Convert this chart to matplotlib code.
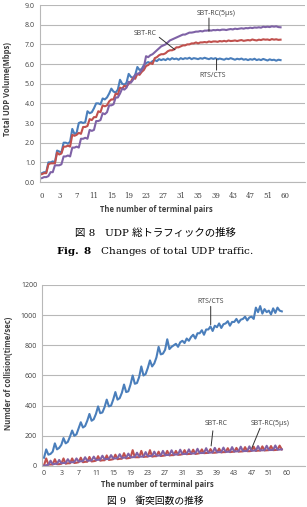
import matplotlib.pyplot as plt
import numpy as np

plt.rcParams["font.family"] = ["Open Sans", "DejaVu Sans"]
plt.rcParams["mathtext.fontset"] = "dejavuserif"

# x axis: 8 samples per labelled category step
tick_labels = ["0", "3", "7", "11", "15", "19", "23", "27", "31", "35", "39", "43", "47", "51", "60"]
samples_per_label = 8

# Fig. 8 - total UDP volume (Mbps)
udp_rts_cts = [
    0.45, 0.5, 0.5, 1.0, 1.0, 1.05, 1.0, 1.6, 1.55, 1.5, 2.0, 2.0, 1.95, 2.05,
    2.7, 2.45, 2.5, 3.0, 3.05, 3.0, 3.05, 3.6, 3.5, 3.55,
    3.75, 4.0, 4.0, 3.95, 4.25, 4.2, 4.3, 4.5, 4.75, 4.6, 4.55, 4.7,
    5.2, 5.0, 4.95, 5.05, 5.5, 5.35, 5.3, 5.45, 5.85, 5.7, 5.75, 5.95,
    6.05, 6.1, 6.05, 6.15, 6.2, 6.15, 6.25, 6.2, 6.25, 6.2, 6.28, 6.22,
    6.3, 6.25, 6.28, 6.22, 6.3, 6.25, 6.3, 6.27, 6.32, 6.25, 6.3, 6.28,
    6.25, 6.3, 6.27, 6.32, 6.28, 6.25, 6.3, 6.26, 6.3, 6.24, 6.28, 6.25,
    6.22, 6.28, 6.25, 6.3, 6.26, 6.22, 6.27, 6.24, 6.28, 6.22, 6.25, 6.2,
    6.25, 6.22, 6.27, 6.2, 6.24, 6.2, 6.26, 6.22, 6.18, 6.24, 6.2, 6.22,
    6.17, 6.22, 6.2,
]
udp_sbt_rc = [
    0.4, 0.45, 0.45, 0.9, 0.95, 0.95, 0.95, 1.5, 1.4, 1.45, 1.8, 1.8, 1.85, 1.8,
    2.4, 2.35, 2.4, 2.5, 2.45, 2.8, 2.8, 2.85, 3.2, 3.15,
    3.3, 3.3, 3.6, 3.55, 3.9, 3.85, 3.9, 4.1, 4.2, 4.2, 4.5, 4.45,
    4.8, 4.75, 4.9, 4.85, 5.0, 5.1, 5.3, 5.25, 5.5, 5.45, 5.6, 5.7,
    5.9, 5.95, 6.05, 6.0, 6.3, 6.35, 6.45, 6.5, 6.5, 6.55, 6.65, 6.7,
    6.7, 6.75, 6.85, 6.85, 6.9, 6.95, 6.95, 7.0, 7.0, 7.05, 7.05, 7.1,
    7.05, 7.1, 7.1, 7.12, 7.1, 7.15, 7.12, 7.15, 7.15, 7.13, 7.17, 7.15,
    7.18, 7.15, 7.2, 7.17, 7.18, 7.2, 7.17, 7.2, 7.22, 7.18, 7.2, 7.22,
    7.2, 7.25, 7.22, 7.2, 7.24, 7.22, 7.26, 7.24, 7.25, 7.22, 7.27, 7.24,
    7.26, 7.23, 7.24,
]
udp_sbt_rc_5us = [
    0.2, 0.25, 0.25, 0.3, 0.5, 0.5, 0.85, 0.85, 0.85, 0.9, 1.3, 1.3,
    1.35, 1.3, 1.75, 1.75, 1.8, 1.75, 2.2, 2.2, 2.25, 2.2, 2.65, 2.6,
    2.65, 3.1, 3.1, 3.15, 3.5, 3.45, 3.55, 3.9, 3.9, 3.95, 4.3, 4.3,
    4.5, 4.75, 4.7, 4.8, 5.1, 5.05, 5.2, 5.45, 5.5, 5.55, 5.7, 5.85,
    6.4, 6.35, 6.45, 6.5, 6.6, 6.7, 6.8, 6.9, 6.95, 7.0, 7.1, 7.2,
    7.25, 7.3, 7.35, 7.4, 7.45, 7.5, 7.5, 7.55, 7.6, 7.6, 7.62, 7.65,
    7.65, 7.68, 7.66, 7.7, 7.7, 7.72, 7.7, 7.73, 7.72, 7.74, 7.72, 7.75,
    7.75, 7.73, 7.76, 7.78, 7.76, 7.8, 7.78, 7.8, 7.82, 7.8, 7.83, 7.82,
    7.85, 7.83, 7.86, 7.85, 7.87, 7.85, 7.9, 7.88, 7.9, 7.88, 7.92, 7.9,
    7.92, 7.88, 7.87,
]

# Fig. 9 - number of collisions (time/sec)
col_rts_cts = [
    55, 110, 75, 80, 95, 150, 110, 120, 140, 185, 150, 160,
    195, 235, 200, 210, 250, 290, 255, 265, 300, 345, 300, 310,
    345, 395, 350, 355, 390, 440, 395, 400, 440, 490, 440, 450,
    485, 540, 490, 495, 540, 600, 545, 550, 590, 660, 600, 610,
    650, 700, 660, 680, 720, 790, 740, 745, 770, 840, 775, 790,
    800, 810, 790, 820, 830, 815, 845, 830, 855, 870, 845, 880,
    880, 900, 870, 905, 905, 925, 895, 930, 920, 945, 915, 940,
    945, 960, 930, 955, 955, 975, 950, 970, 975, 990, 965, 985,
    990, 975, 1050, 1020, 1060, 1010, 1040, 1020, 1030, 1005, 1045, 1015,
    1050, 1030, 1025,
]
col_sbt_rc = [
    5, 50, 10, 10, 10, 45, 12, 12, 15, 50, 15, 18, 18, 50, 20, 22,
    25, 55, 25, 28, 28, 60, 30, 32, 35, 65, 35, 38, 38, 70, 40, 42,
    45, 75, 45, 48, 48, 85, 50, 52, 55, 105, 58, 58, 58, 100, 60, 62,
    62, 105, 62, 65, 65, 95, 66, 68, 70, 100, 70, 72, 72, 100, 74, 75,
    78, 105, 78, 80, 80, 108, 80, 82, 85, 110, 85, 86, 87, 112, 88, 88,
    90, 115, 90, 92, 92, 118, 92, 94, 95, 120, 95, 96, 97, 125, 98, 98,
    100, 128, 100, 102, 102, 130, 103, 104, 105, 132, 105, 106,
    108, 135, 110,
]
col_sbt_rc_5us = [
    2, 5, 8, 35, 12, 14, 15, 40, 18, 20, 20, 45, 24, 25, 26, 50,
    30, 31, 32, 58, 35, 36, 37, 62, 40, 41, 42, 68, 45, 46, 47, 72,
    50, 50, 52, 78, 54, 55, 56, 82, 58, 58, 60, 88, 62, 62, 63, 92,
    65, 66, 67, 95, 69, 69, 70, 100, 72, 73, 74, 104, 76, 76, 77, 108,
    79, 80, 80, 110, 82, 83, 84, 114, 86, 86, 87, 118, 88, 89, 90, 120,
    91, 92, 92, 122, 94, 94, 95, 125, 96, 97, 98, 128, 99, 99, 100, 130,
    101, 102, 102, 132, 104, 104, 105, 134, 106, 106, 107, 136,
    108, 109, 110,
]

BLUE = "#4a7ebb"
RED = "#c0504d"
PURPLE = "#7f62a6"
GRID = "#b8b8b8"
TEXT = "#404040"


def style_axes(ax, ylim, ystep, yfmt, xlim_right, tick_family):
    ticks = np.arange(len(tick_labels)) * samples_per_label
    ax.set_xticks(ticks)
    ax.set_xticklabels(tick_labels, family=tick_family)
    ax.set_xlim(-0.92, xlim_right)
    ax.set_ylim(*ylim)
    yticks = np.arange(ylim[0], ylim[1] + ystep / 2, ystep)
    ax.set_yticks(yticks)
    ax.set_yticklabels([yfmt.format(v) for v in yticks])
    ax.grid(axis="y", color=GRID, linewidth=0.8)
    ax.set_axisbelow(True)
    for side in ("top", "right"):
        ax.spines[side].set_visible(False)
    for side in ("left", "bottom"):
        ax.spines[side].set_color(GRID)
        ax.spines[side].set_linewidth(0.8)
    ax.tick_params(length=0, labelsize=5, labelcolor=TEXT)


def leader(ax, label, text_xy, start, end):
    ax.text(*text_xy, label, fontsize=5, color=TEXT, ha="center", va="center")
    ax.annotate("", xy=end, xytext=start,
                arrowprops=dict(arrowstyle="-", color="#303030", lw=0.7,
                                shrinkA=0, shrinkB=0))


fig = plt.figure(figsize=(3.07, 5.07), dpi=100)

# ---- Fig. 8 ----
ax1 = fig.add_axes([0.130, 0.641, 0.863, 0.349])
x1 = np.arange(len(udp_rts_cts))
ax1.plot(x1, udp_rts_cts, color=BLUE, lw=1.5)
ax1.plot(x1, udp_sbt_rc, color=RED, lw=1.5)
ax1.plot(x1, udp_sbt_rc_5us, color=PURPLE, lw=1.5)
style_axes(ax1, (0, 9), 1.0, "{:.1f}", 121.2, "DejaVu Serif")
ax1.tick_params(axis="x", pad=7)
ax1.set_xlabel("The number of terminal pairs", fontsize=5.5, fontweight="bold", color=TEXT)
ax1.xaxis.set_label_coords(0.44, -0.155)
ax1.xaxis.label.set_va("center")
ax1.set_ylabel("Total UDP Volume(Mbps)", fontsize=5.5, fontweight="bold", color=TEXT)
ax1.yaxis.set_label_coords(-0.121, 0.528)
ax1.yaxis.label.set_va("center")

leader(ax1, "SBT-RC(5μs)", (80.5, 8.55), (77, 8.34), (77, 7.66))
leader(ax1, "SBT-RC", (47.7, 7.56), (54.1, 7.36), (61.3, 6.73))
leader(ax1, "RTS/CTS", (78.9, 5.44), (80.5, 6.25), (80.5, 5.69))

fig.text(0.505, 1 - 233 / 507, "図 8   UDP 総トラフィックの推移", fontsize=7.5,
         family=["DejaVu Serif", "Noto Sans CJK JP"], ha="center", va="center")
fig.text(0.505, 1 - 252 / 507, r"$\mathbf{Fig.\ 8}$   Changes of total UDP traffic.",
         fontsize=7.5, family="DejaVu Serif", ha="center", va="center")

# ---- Fig. 9 ----
ax2 = fig.add_axes([0.137, 0.0809, 0.857, 0.357])
x2 = np.arange(len(col_rts_cts))
ax2.plot(x2, col_rts_cts, color=BLUE, lw=1.5)
ax2.plot(x2, col_sbt_rc, color=RED, lw=1.5)
ax2.plot(x2, col_sbt_rc_5us, color=PURPLE, lw=1.5)
style_axes(ax2, (0, 1200), 200, "{:.0f}", 120.8, ["Open Sans", "DejaVu Sans"])
ax2.tick_params(axis="x", pad=3)
ax2.set_xlabel("The number of terminal pairs", fontsize=5.5, fontweight="bold", color=TEXT)
ax2.xaxis.set_label_coords(0.44, -0.10)
ax2.xaxis.label.set_va("center")
ax2.set_ylabel("Numder of collision(time/sec)", fontsize=5.5, fontweight="bold", color=TEXT)
ax2.yaxis.set_label_coords(-0.129, 0.511)
ax2.yaxis.label.set_va("center")

leader(ax2, "RTS/CTS", (77.1, 1092), (77.1, 1058), (77.1, 937))
leader(ax2, "SBT-RC", (79.6, 279), (78.1, 233), (77.3, 133))
leader(ax2, "SBT-RC(5μs)", (104.6, 279), (99.9, 250), (96.1, 118))

fig.text(0.505, 1 - 506 / 507, "図 9   衝突回数の推移", fontsize=7,
         family=["DejaVu Serif", "Noto Sans CJK JP"], ha="center", va="bottom")

fig.savefig("out.png", dpi=100)
